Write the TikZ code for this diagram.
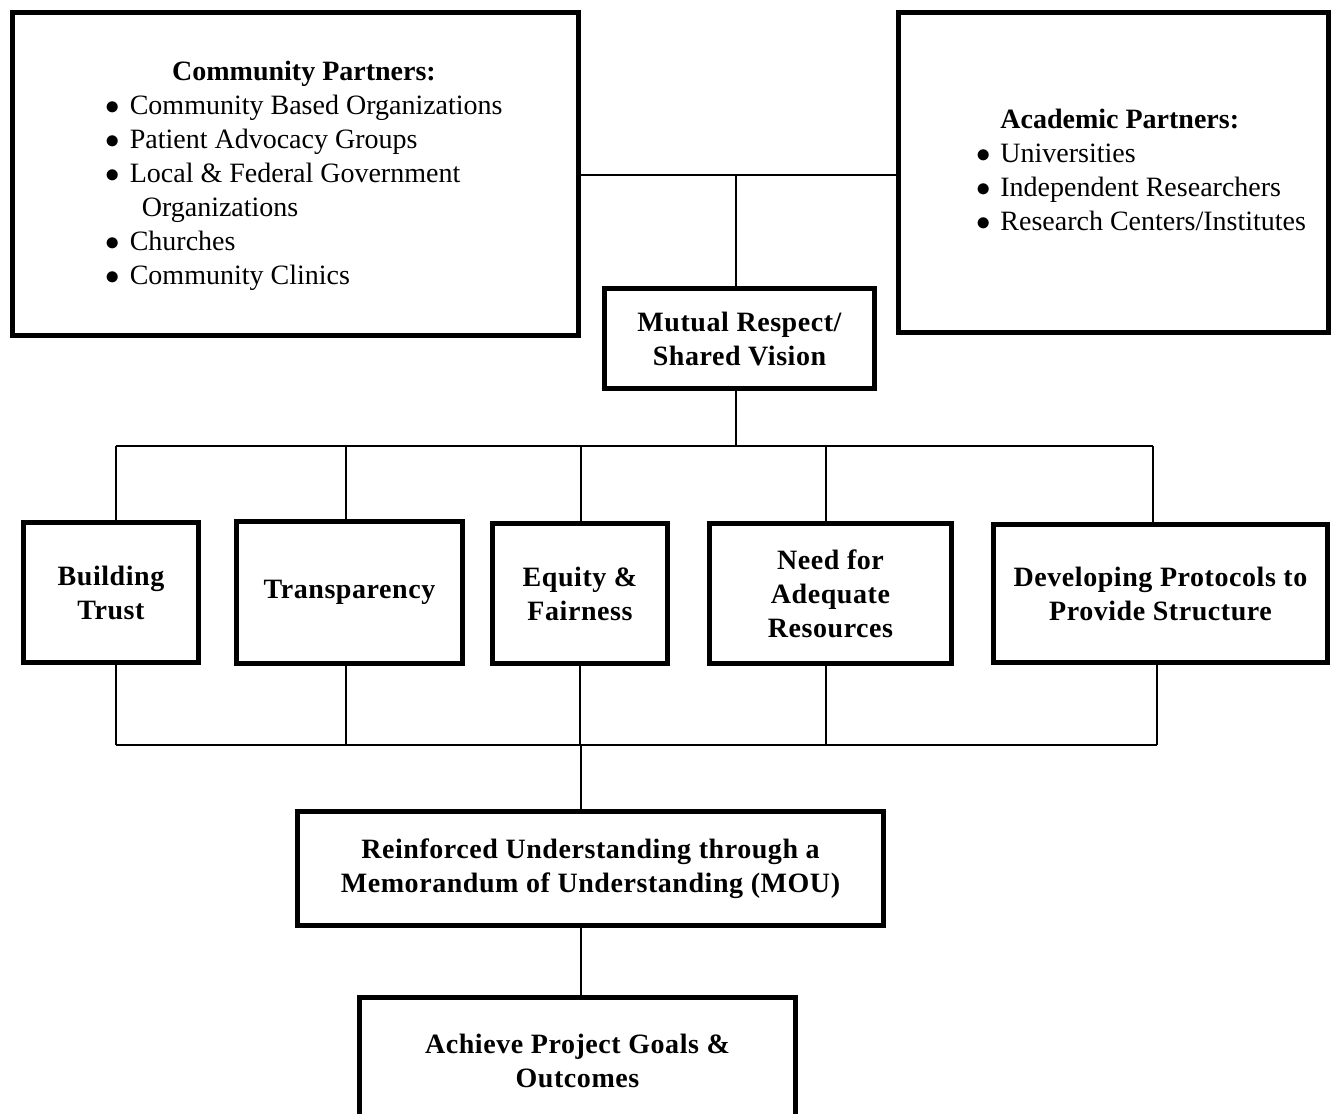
\documentclass[tikz,border=0pt]{standalone}
\usepackage{fontspec}
\setmainfont{Liberation Serif}
\usepackage{tikz}

\begin{document}
\begin{tikzpicture}[x=0.5pt,y=-0.5pt,line width=0.7pt,
	box/.style={draw,line width=2.5pt,rectangle,align=center,inner sep=0pt,font=\fontsize{14}{17}\selectfont\bfseries\addfontfeature{LetterSpace=2}},
	plain/.style={inner sep=0pt,font=\fontsize{14}{17}\selectfont}]
	\useasboundingbox (0,0) rectangle (1339,1114);

	% partner boxes
	\node[box,minimum width=283pt,minimum height=161.5pt] (comm) at (295.5,174) {};
	\node[plain] (commtext) at (304,176) {\begin{tabular}{@{}l@{\hspace{5pt}}l@{}}
		\multicolumn{2}{c}{\bfseries Community Partners:}\\
		$\bullet$ & Community Based Organizations\\
		$\bullet$ & Patient Advocacy Groups\\
		$\bullet$ & Local \& Federal Government\\
		 & \hspace{6pt}Organizations\\
		$\bullet$ & Churches\\
		$\bullet$ & Community Clinics
	\end{tabular}};
	\node[box,minimum width=215pt,minimum height=160pt] (acad) at (1113.5,172.5) {};
	\node[plain] (acadtext) at (1141,173) {\begin{tabular}{@{}l@{\hspace{5pt}}l@{}}
		 & \bfseries Academic Partners:\\
		$\bullet$ & Universities\\
		$\bullet$ & Independent Researchers\\
		$\bullet$ & Research Centers/Institutes
	\end{tabular}};

	\node[box,minimum width=135pt,minimum height=50pt] (mutual) at (739.5,338.5) {Mutual Respect/\\Shared Vision};

	% principles
	\node[box,minimum width=87.5pt,minimum height=70pt] (trust) at (111,592.5) {Building\\Trust};
	\node[box,minimum width=113pt,minimum height=71pt] (transp) at (349.5,592.5) {\raisebox{-2pt}{Transparency}};
	\node[box,minimum width=87.5pt,minimum height=70pt] (equity) at (580,593.5) {Equity \&\\Fairness};
	\node[box,minimum width=121pt,minimum height=70pt] (need) at (830.5,593.5) {Need for\\Adequate\\Resources};
	\node[box,minimum width=167pt,minimum height=69pt] (devel) at (1160.5,593.5) {Developing Protocols to\\Provide Structure};

	\node[box,minimum width=293pt,minimum height=57pt] (mou) at (590.5,868.5) {Reinforced Understanding through a\\Memorandum of Understanding (MOU)};
	\node[box,minimum width=218pt,minimum height=63pt] (goal) at (577.5,1060.5) {Achieve Project Goals \&\\Outcomes};

	% connectors
	\coordinate (tj) at (736,175);
	\coordinate (bustop) at (736,446);
	\coordinate (busbot) at (581,745);
	\draw (comm.east |- tj) -- (acad.west |- tj);
	\draw (tj) -- (tj |- mutual.north);
	\draw (mutual.south -| bustop) -- (bustop);
	\foreach \n/\a/\b in {trust/116/116,transp/346/346,equity/581/580,need/826/826,devel/1153/1157} {
		\coordinate (up_\n) at (\a,446);
		\coordinate (dn_\n) at (\b,745);
		\draw (up_\n) -- (up_\n |- \n.north);
		\draw (dn_\n) -- (dn_\n |- \n.south);
	}
	\draw (up_trust) -- (up_devel);
	\draw (dn_trust) -- (dn_devel);
	\draw (busbot) -- (busbot |- mou.north);
	\draw (mou.south -| busbot) -- (goal.north -| busbot);
\end{tikzpicture}
\end{document}
